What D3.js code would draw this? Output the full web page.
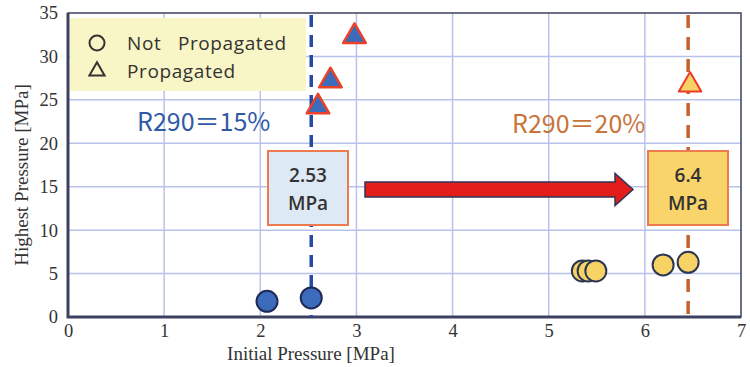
<!DOCTYPE html>
<html>
<head>
<meta charset="utf-8">
<script src="https://cdn.jsdelivr.net/npm/d3@7"></script>
<style>
  body { margin: 0; background: #fff; }
  svg { display: block; }
</style>
</head>
<body>
<div id="chart"></div>
<script>
// data
const xTicks = [0, 1, 2, 3, 4, 5, 6, 7];
const yTicks = [0, 5, 10, 15, 20, 25, 30, 35];

// R290 = 15 %
const blueNotX = [2.07, 2.53];
const blueNotY = [1.8, 2.2];
const bluePropX = [2.6, 2.73, 2.98];
const bluePropY = [24.2, 27.2, 32.3];

// R290 = 20 %
const yellowNotX = [5.35, 5.41, 5.49, 6.19, 6.45];
const yellowNotY = [5.3, 5.3, 5.3, 6.0, 6.3];
const yellowPropX = [6.47];
const yellowPropY = [26.7];

const limitBlue = 2.53;
const limitYellow = 6.45;

const width = 750, height = 367;
const margin = { top: 13, right: 9, bottom: 50, left: 68 };

const svg = d3.select('#chart').append('svg')
  .attr('width', width)
  .attr('height', height);

const x = d3.scaleLinear().domain([0, 7]).range([margin.left, width - margin.right]);
const y = d3.scaleLinear().domain([0, 35]).range([height - margin.bottom, margin.top]);

const serif = '"Liberation Serif", "Times New Roman", serif';
const sans = '"Open Sans", "Noto Sans", sans-serif';
const jp = '"Noto Sans CJK JP", "Noto Sans", sans-serif';

// grid
svg.append('g')
  .selectAll('line.gx')
  .data(xTicks.slice(1, -1))
  .join('line')
  .attr('x1', d => x(d)).attr('x2', d => x(d))
  .attr('y1', y(35)).attr('y2', y(0))
  .attr('stroke', '#b9c3ea').attr('stroke-width', 1.5);

svg.append('g')
  .selectAll('line.gy')
  .data(yTicks.slice(1, -1))
  .join('line')
  .attr('x1', x(0)).attr('x2', x(7))
  .attr('y1', d => y(d)).attr('y2', d => y(d))
  .attr('stroke', '#b9c3ea').attr('stroke-width', 1.5);

// axes
const xAxis = svg.append('g')
  .attr('transform', `translate(0,${y(0)})`)
  .call(d3.axisBottom(x).tickValues(xTicks).tickFormat(d3.format('d')).tickSize(0).tickPadding(7));
const yAxis = svg.append('g')
  .attr('transform', `translate(${x(0)},0)`)
  .call(d3.axisLeft(y).tickValues(yTicks).tickFormat(d3.format('d')).tickSize(0).tickPadding(10));

[xAxis, yAxis].forEach(g => {
  g.select('.domain').remove();
  g.selectAll('text')
    .attr('font-family', serif)
    .attr('font-size', 18.5)
    .attr('fill', '#333');
});

// frame
svg.append('rect')
  .attr('x', x(0)).attr('y', y(35))
  .attr('width', x(7) - x(0)).attr('height', y(0) - y(35))
  .attr('fill', 'none').attr('stroke', '#3d4160').attr('stroke-width', 1.5);
svg.append('path')
  .attr('d', `M${x(0)},${y(35)}V${y(0)}H${x(7)}`)
  .attr('fill', 'none').attr('stroke', '#3d4160').attr('stroke-width', 3);

// legend
const lg = svg.append('g');
lg.append('rect')
  .attr('x', 70).attr('y', 18).attr('width', 236).attr('height', 73)
  .attr('fill', '#f8f5c6');
lg.append('circle')
  .attr('cx', 97).attr('cy', 43).attr('r', 7.5)
  .attr('fill', 'none').attr('stroke', '#333').attr('stroke-width', 2);
lg.append('path')
  .attr('d', d3.symbol(d3.symbolTriangle, 100)())
  .attr('transform', 'translate(97,71)')
  .attr('fill', 'none').attr('stroke', '#333').attr('stroke-width', 2);
lg.append('text')
  .attr('x', 127).attr('y', 50)
  .attr('font-family', sans).attr('font-size', 19).attr('font-weight', 500).attr('fill', '#333')
  .attr('xml:space', 'preserve')
  .attr('letter-spacing', 0.6)
  .text('Not   Propagated');
lg.append('text')
  .attr('x', 127).attr('y', 78)
  .attr('font-family', sans).attr('font-size', 19).attr('font-weight', 500).attr('fill', '#333')
  .attr('letter-spacing', 0.6)
  .text('Propagated');

// limit lines
svg.append('line')
  .attr('x1', x(limitBlue)).attr('x2', x(limitBlue))
  .attr('y1', y(35) + 2).attr('y2', y(0))
  .attr('stroke', '#2549a8').attr('stroke-width', 3.5)
  .attr('stroke-dasharray', '12,8');
svg.append('line')
  .attr('x1', x(limitYellow)).attr('x2', x(limitYellow))
  .attr('y1', y(35) + 2).attr('y2', y(0))
  .attr('stroke', '#c4622c').attr('stroke-width', 3.5)
  .attr('stroke-dasharray', '13,9');

// R290 labels
svg.append('text')
  .attr('x', 137).attr('y', 131)
  .attr('font-family', jp).attr('font-size', 25).attr('fill', '#2f5aa6')
  .text('R290＝15%');
svg.append('text')
  .attr('x', 512).attr('y', 133)
  .attr('font-family', jp).attr('font-size', 25).attr('fill', '#c8743a')
  .text('R290＝20%');

// value boxes
function valueBox(cx, fill, lines) {
  const g = svg.append('g');
  g.append('rect')
    .attr('x', cx - 40).attr('y', 151).attr('width', 80).attr('height', 74)
    .attr('fill', fill).attr('stroke', '#ec7b4f').attr('stroke-width', 2);
  g.selectAll('text')
    .data(lines)
    .join('text')
    .attr('x', cx).attr('y', (d, i) => 182 + i * 28)
    .attr('text-anchor', 'middle')
    .attr('font-family', sans).attr('font-size', 19).attr('font-weight', 600)
    .attr('fill', '#333')
    .text(d => d);
}
valueBox(308, '#dde9f4', ['2.53', 'MPa']);
valueBox(688, '#f8d46a', ['6.4', 'MPa']);

// arrow
const ax0 = 365, ax1 = 633, ay = 189.5;
svg.append('path')
  .attr('d', `M${ax0},${ay - 7.5}H${ax1 - 18}V${ay - 16}L${ax1},${ay}L${ax1 - 18},${ay + 16}V${ay + 7.5}H${ax0}Z`)
  .attr('fill', '#e31d1a').attr('stroke', '#2c3556').attr('stroke-width', 1.5)
  .attr('stroke-linejoin', 'miter');

// markers
const tri = d3.symbol(d3.symbolTriangle, 220);

svg.append('g')
  .selectAll('circle')
  .data(blueNotX.map((d, i) => [d, blueNotY[i]]))
  .join('circle')
  .attr('cx', d => x(d[0])).attr('cy', d => y(d[1])).attr('r', 10.5)
  .attr('fill', '#3c6bbb').attr('stroke', '#1e2b57').attr('stroke-width', 2);

svg.append('g')
  .selectAll('circle')
  .data(yellowNotX.map((d, i) => [d, yellowNotY[i]]))
  .join('circle')
  .attr('cx', d => x(d[0])).attr('cy', d => y(d[1])).attr('r', 10.5)
  .attr('fill', '#f7d365').attr('stroke', '#2b3553').attr('stroke-width', 2);

svg.append('g')
  .selectAll('path')
  .data(bluePropX.map((d, i) => [d, bluePropY[i]]))
  .join('path')
  .attr('d', tri)
  .attr('transform', d => `translate(${x(d[0])},${y(d[1])})`)
  .attr('fill', '#3c6bbb').attr('stroke', '#ea4128').attr('stroke-width', 2.5)
  .attr('stroke-linejoin', 'round');

svg.append('g')
  .selectAll('path')
  .data(yellowPropX.map((d, i) => [d, yellowPropY[i]]))
  .join('path')
  .attr('d', tri)
  .attr('transform', d => `translate(${x(d[0])},${y(d[1])})`)
  .attr('fill', '#f7d365').attr('stroke', '#ef3a2a').attr('stroke-width', 2)
  .attr('stroke-linejoin', 'round');

// axis titles
svg.append('text')
  .attr('x', 311).attr('y', 360)
  .attr('text-anchor', 'middle')
  .attr('font-family', serif).attr('font-size', 19).attr('fill', '#333')
  .text('Initial Pressure [MPa]');
svg.append('text')
  .attr('transform', `translate(28,${(y(0) + y(35)) / 2 + 10}) rotate(-90)`)
  .attr('text-anchor', 'middle')
  .attr('font-family', serif).attr('font-size', 19).attr('fill', '#333')
  .text('Highest Pressure [MPa]');
</script>
</body>
</html>
